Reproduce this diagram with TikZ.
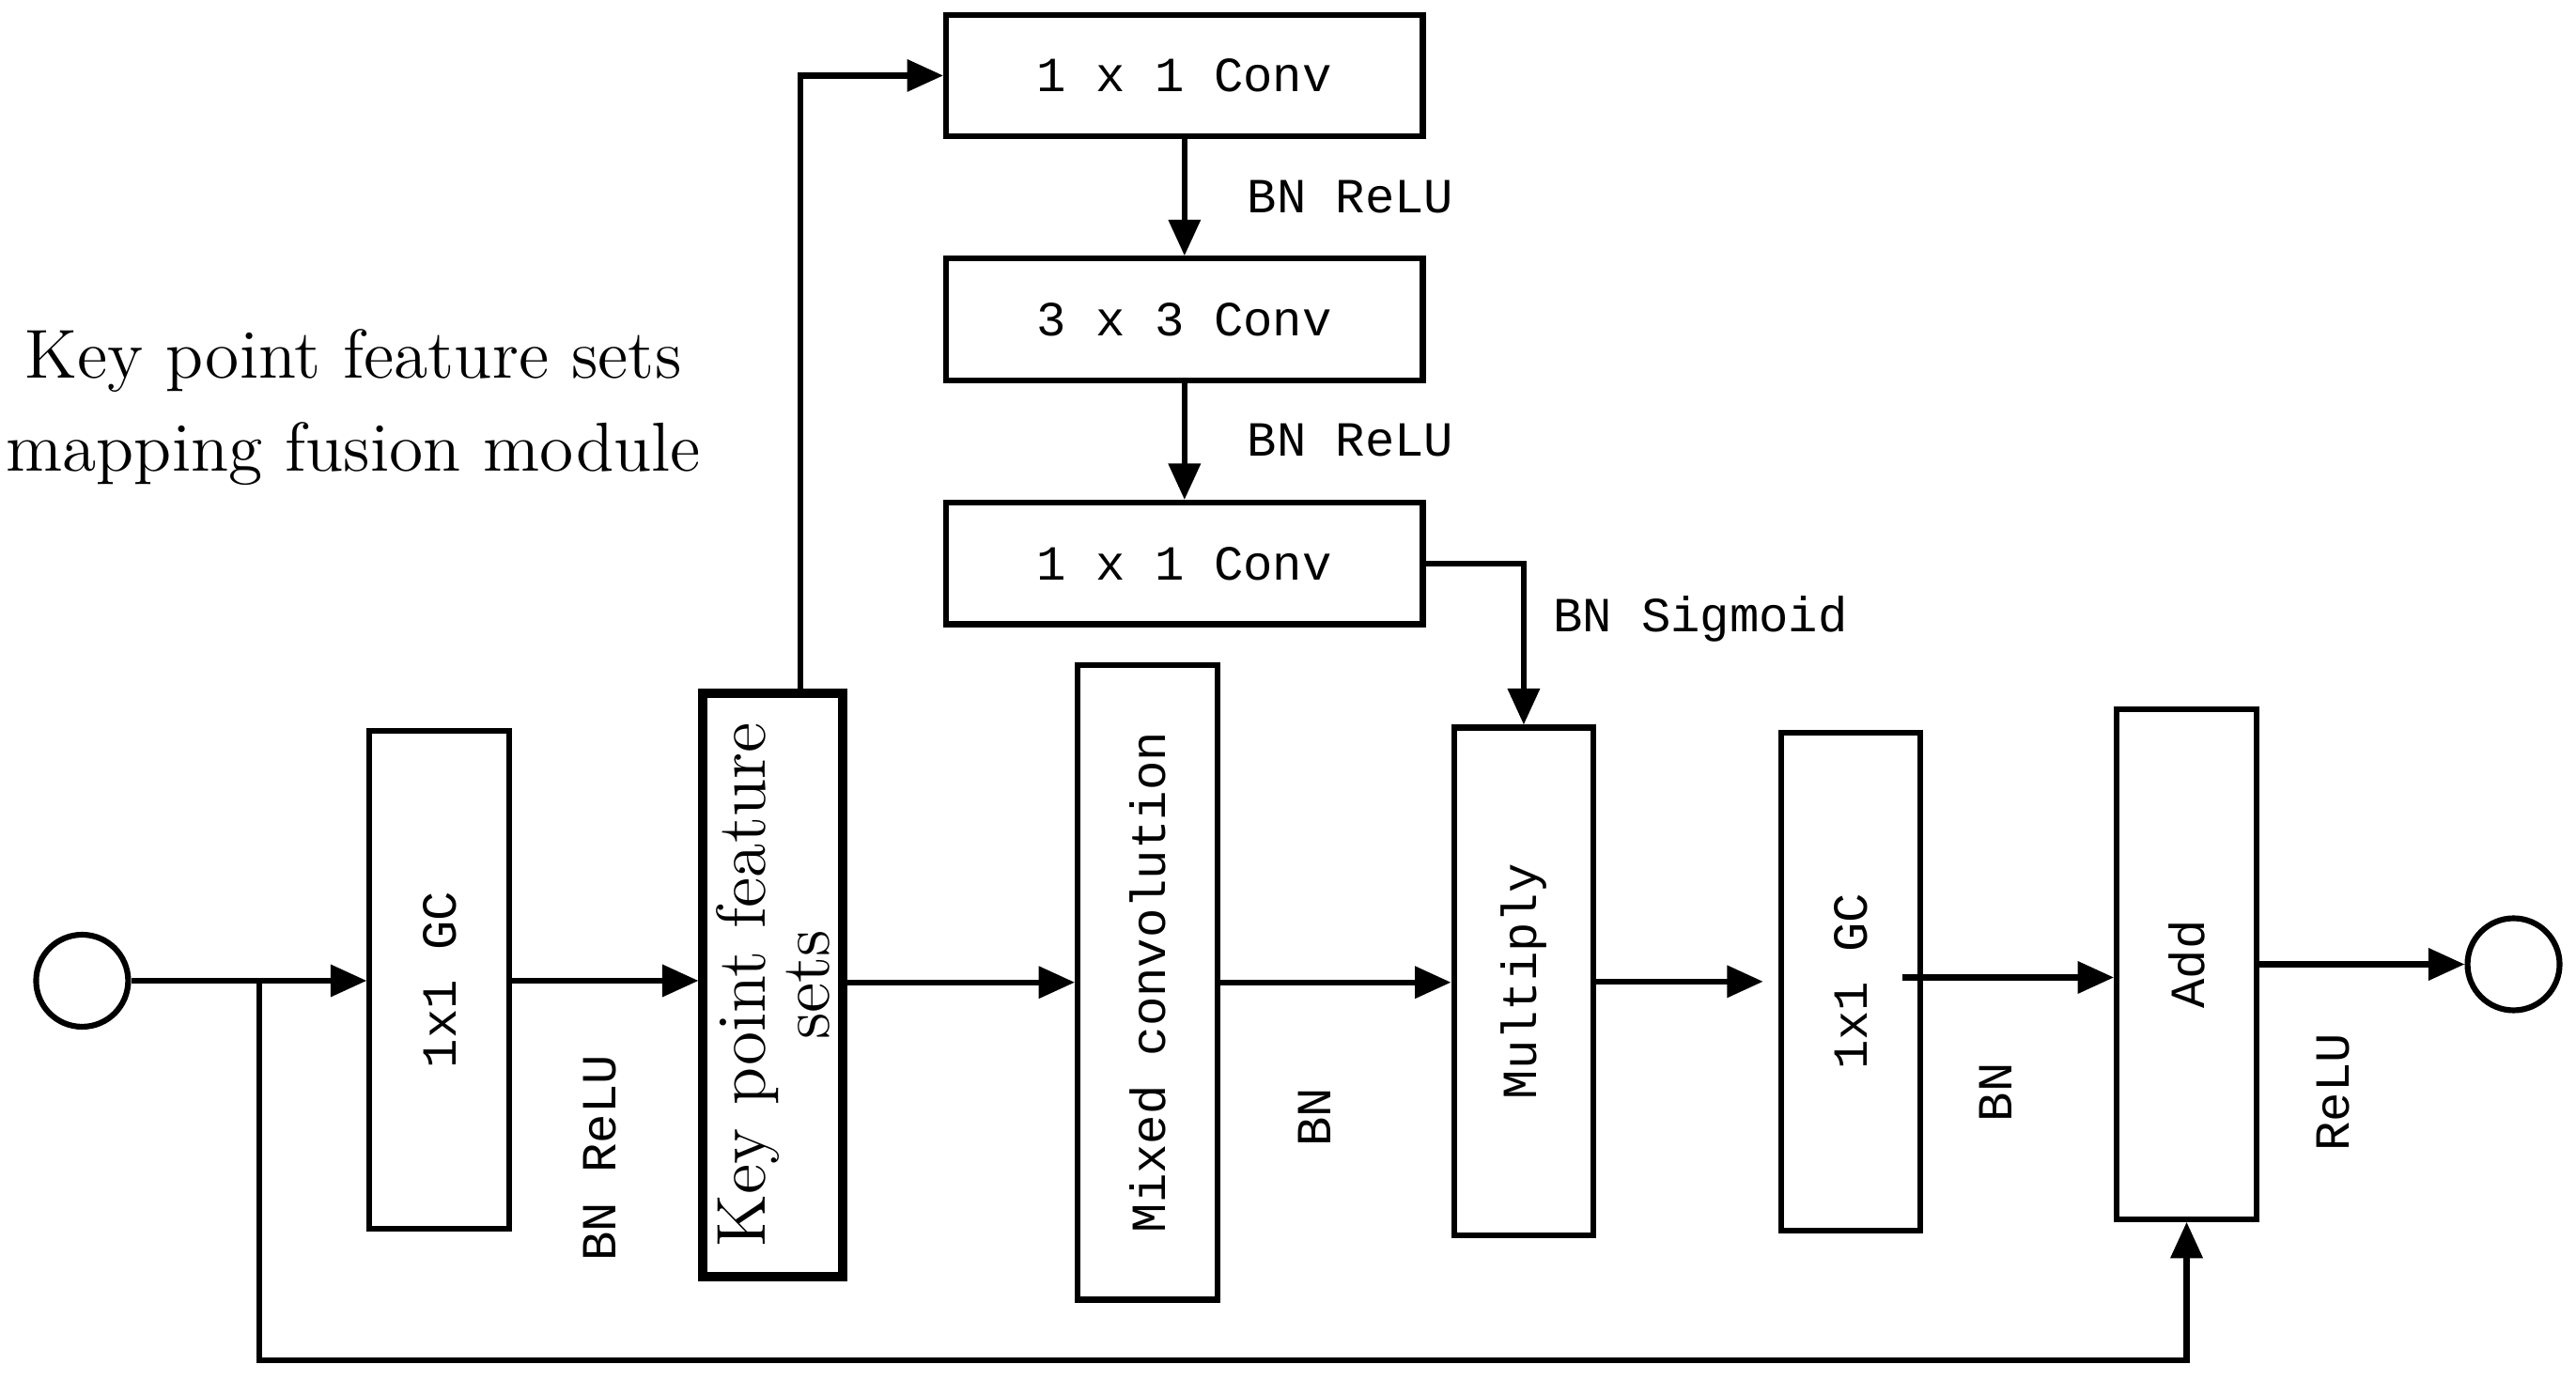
\documentclass[tikz,border=0pt]{standalone}
\usepackage{fontspec}
\newfontfamily\labelfont{Liberation Mono}
\usetikzlibrary{arrows.meta}
\tikzset{
  box/.style={draw,line width=1pt,inner sep=0pt,font=\labelfont\fontsize{8.5}{10}\selectfont},
  vbox/.style={box,minimum width=0.85cm},
  hbox/.style={box,minimum width=2.9cm,minimum height=0.74cm},
  port/.style={draw,line width=1pt,circle,minimum size=0.56cm,inner sep=0pt},
  lbl/.style={font=\labelfont\fontsize{8.5}{10}\selectfont},
  flow/.style={line width=1pt,-{Triangle[length=0.22cm,width=0.19cm]}},
}
\begin{document}
\begin{tikzpicture}[x=0.01cm,y=-0.01cm]
  \useasboundingbox (0,0) rectangle (1568,840);

  % title
  \node[font=\fontsize{12}{16}\selectfont,align=center] (title) at (215,248)
    {Key point feature sets\\mapping fusion module};

  % main row
  \node[port] (in) at (50,597) {};
  \node[vbox,minimum height=3.03cm] (gc1) at (267.5,596.5) {\rotatebox{90}{1x1 GC}};
  \node[vbox,minimum height=3.55cm,line width=1.6pt,font=\fontsize{12}{12}\selectfont] (kp) at (470.5,599.5)
    {\rotatebox{90}{\parbox{3.3cm}{\centering Key point feature\\[-1pt] sets}}};
  \node[vbox,minimum height=3.86cm] (mix) at (698.5,598) {\rotatebox{90}{Mixed convolution}};
  \node[vbox,minimum height=3.09cm] (mul) at (927.5,597.5) {\rotatebox{90}{Multiply}};
  \node[vbox,minimum height=3.03cm] (gc2) at (1126.5,597.5) {\rotatebox{90}{1x1 GC}};
  \node[vbox,minimum height=3.10cm] (add) at (1331,587) {\rotatebox{90}{Add}};
  \node[port] (out) at (1530,587) {};

  % upper branch
  \node[hbox] (c1) at (721,46) {1 x 1 Conv};
  \node[hbox] (c2) at (721,194.5) {3 x 3 Conv};
  \node[hbox] (c3) at (721,343) {1 x 1 Conv};

  % connectors
  \draw[flow] (in.east) -- (gc1.west |- in.east);
  \draw[flow] (gc1.east |- in.east) -- (kp.west |- in.east);
  \draw[flow] (kp.east |- mix.west) -- (mix.west);
  \draw[flow] (mix.east) -- (mul.west |- mix.east);
  \draw[flow,shorten >=0.09cm] (mul.east |- gc2.west) -- (gc2.west);
  \coordinate (gcout) at (1158,595);
  \draw[flow] (gcout) -- (add.west |- gcout);
  \draw[flow] (add.east) -- (out.west);

  \coordinate (kpt) at (487,425);
  \draw[flow] (kpt) |- (c1.west);
  \draw[flow] (c1) -- (c2);
  \draw[flow] (c2) -- (c3);
  \draw[flow] (c3.east) -| (mul.north);

  \coordinate (split) at (158,597);
  \draw[flow] (split) |- (1331,828) -- (add.south);

  % labels
  \node[lbl] (l1) at (822,120) {BN ReLU};
  \node[lbl] (l2) at (822,268) {BN ReLU};
  \node[lbl] (l3) at (1035,377) {BN Sigmoid};
  \node[lbl,rotate=90] (l4) at (365,705) {BN ReLU};
  \node[lbl,rotate=90] (l5) at (800,680) {BN};
  \node[lbl,rotate=90] (l6) at (1215,665) {BN};
  \node[lbl,rotate=90] (l7) at (1420,665) {ReLU};
\end{tikzpicture}
\end{document}
